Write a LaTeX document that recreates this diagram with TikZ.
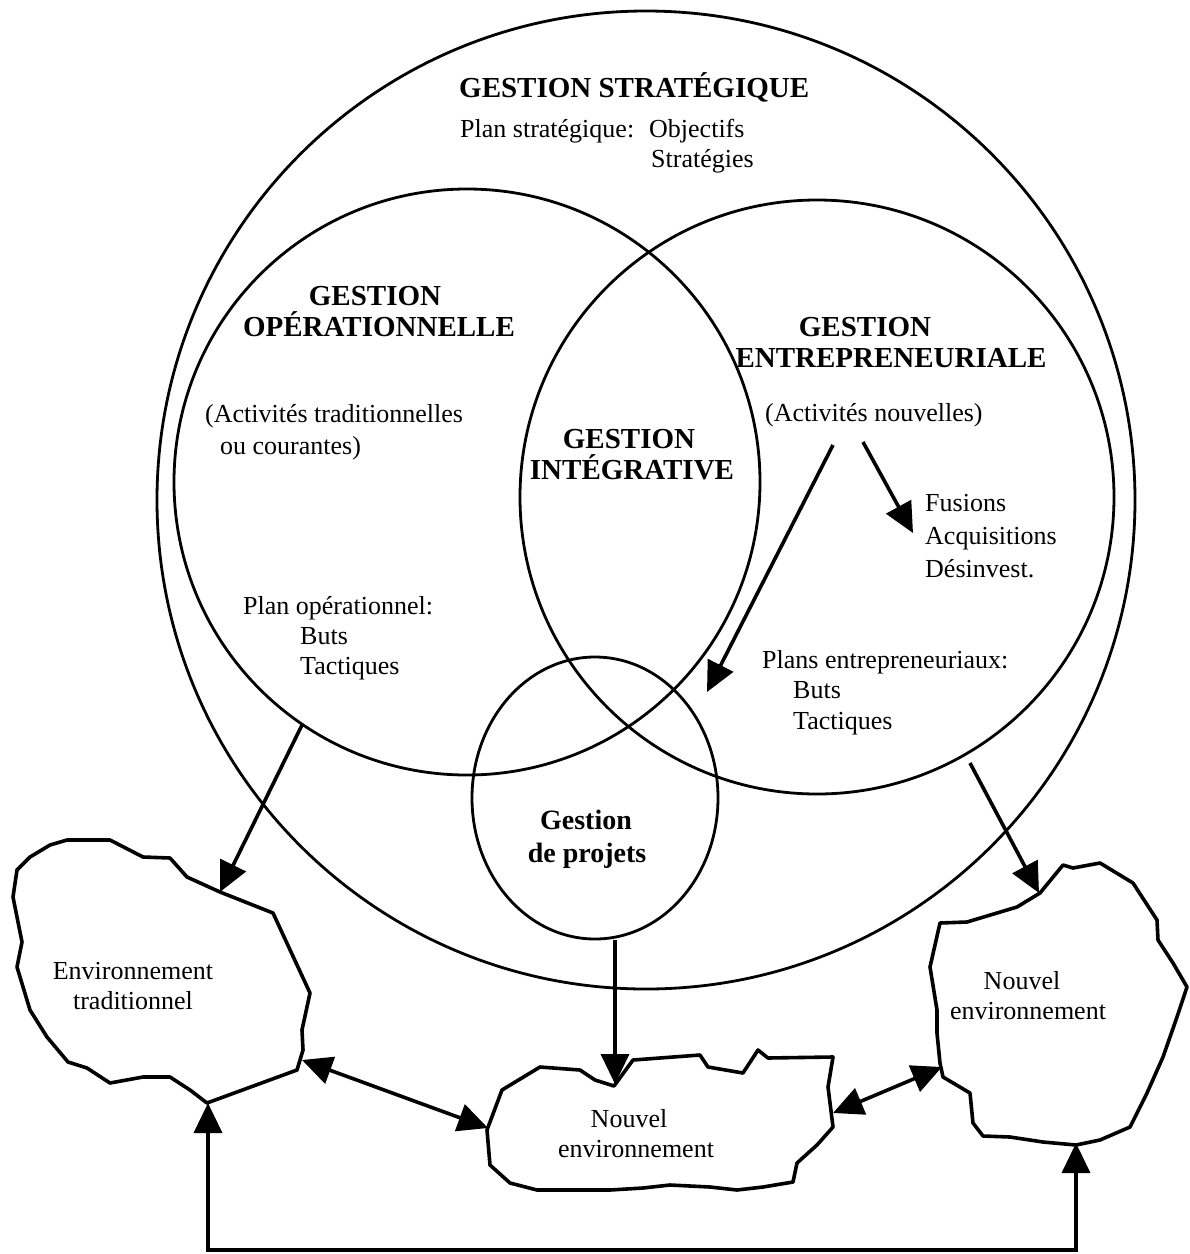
\documentclass[tikz,border=0pt]{standalone}
\usepackage{fontspec}
\setmainfont{Liberation Serif}
\usetikzlibrary{arrows.meta}

\tikzset{
  ring/.style={draw, line width=2.8pt},
  blob/.style={draw, line width=3.6pt, line join=round},
  link/.style={draw, line width=3.6pt, -{Triangle[length=30pt,width=28pt]}},
  biglink/.style={draw, line width=3.6pt, {Triangle[length=30pt,width=28pt]}-{Triangle[length=30pt,width=28pt]}},
  txt/.style={inner sep=0pt, font=\fontsize{26}{30}\selectfont},
  head/.style={inner sep=0pt, font=\fontsize{29}{32}\selectfont\bfseries},
}

\begin{document}
\begin{tikzpicture}[x=1pt, y=-1pt]
\useasboundingbox (0,0) rectangle (1190,1254);

% the four management circles
\draw[ring] (646,500) circle [radius=489];
\draw[ring] (467,482) circle [radius=293];
\draw[ring] (817,497) circle [radius=297];
\draw[ring] (595,798) ellipse [x radius=123, y radius=141];

% environments
\draw[blob] (67,840) -- (110,840) -- (143,857) -- (170,858) -- (187,877)
  -- (220,892) -- (273,913) -- (310,993) -- (302,1030) -- (303,1050)
  -- (297,1070) -- (207,1103) -- (190,1090) -- (170,1077) -- (143,1077)
  -- (110,1083) -- (87,1068) -- (68,1062) -- (47,1037) -- (30,1010)
  -- (17,967) -- (22,942) -- (13,897) -- (17,870) -- (30,857) -- (50,845) -- cycle;

\draw[blob] (502,1090) -- (540,1067) -- (580,1070) -- (595,1080) -- (614,1086)
  -- (633,1060) -- (700,1055) -- (708,1067) -- (743,1073) -- (758,1050)
  -- (768,1058) -- (833,1057) -- (828,1087) -- (833,1127) -- (817,1145)
  -- (797,1163) -- (793,1182) -- (763,1187) -- (737,1190) -- (710,1187)
  -- (670,1185) -- (643,1188) -- (610,1190) -- (570,1190) -- (537,1190)
  -- (510,1183) -- (490,1165) -- (487,1130) -- cycle;

\draw[blob] (1063,865) -- (1073,868) -- (1100,863) -- (1133,883) -- (1157,920)
  -- (1158,940) -- (1173,963) -- (1187,987) -- (1177,1017) -- (1163,1057)
  -- (1147,1093) -- (1130,1127) -- (1100,1140) -- (1076,1145) -- (1043,1142)
  -- (1010,1137) -- (983,1136) -- (973,1123) -- (970,1093) -- (943,1077)
  -- (940,1063) -- (937,1033) -- (937,1010) -- (930,967) -- (940,923)
  -- (967,922) -- (1017,907) -- (1040,893) -- cycle;

% connector end points
\coordinate (opOut) at (302,725);
\coordinate (tradIn) at (220,892);
\coordinate (entOut) at (970,763);
\coordinate (newRIn) at (1039,893);
\coordinate (projOut) at (615,940);
\coordinate (newMIn) at (615,1084);
\coordinate (tradSide) at (302,1060);
\coordinate (newMLeft) at (488,1128);
\coordinate (newMRight) at (833,1113);
\coordinate (newRSide) at (942,1067);
\coordinate (actA) at (833,445);
\coordinate (projIn) at (707,692);
\coordinate (actB) at (863,442);
\coordinate (fusIn) at (913,533);
\coordinate (tradBase) at (208,1103);
\coordinate (cornerL) at (208,1250);
\coordinate (cornerR) at (1076,1250);
\coordinate (newRBase) at (1076,1143);

\path[link] (opOut) -- (tradIn);
\path[link] (entOut) -- (newRIn);
\path[link] (projOut) -- (newMIn);
\path[link] (actA) -- (projIn);
\path[link] (actB) -- (fusIn);
\path[biglink] (tradSide) -- (newMLeft);
\path[biglink] (newMRight) -- (newRSide);
\path[biglink, line join=miter] (tradBase) -- (cornerL) -- (cornerR) -- (newRBase);

% strategic management
\node[head, anchor=base west] (strat) at (459,97) {GESTION STRATÉGIQUE};
\node[txt, anchor=base west] (stratPlan) at (460,137) {Plan stratégique:};
\node[txt, anchor=base west] (stratObj) at (649,137) {Objectifs};
\node[txt, anchor=base west] (stratStrat) at (651,167) {Stratégies};

% operational management
\node[head, anchor=base] (opA) at (375,305) {GESTION};
\node[head, anchor=base] (opB) at (379,336) {OPÉRATIONNELLE};
\node[txt, anchor=base west] (opActA) at (205,422) {(Activités traditionnelles};
\node[txt, anchor=base west] (opActB) at (220,454) {ou courantes)};
\node[txt, anchor=base west] (opPlan) at (243,614) {Plan opérationnel:};
\node[txt, anchor=base west] (opButs) at (300,644) {Buts};
\node[txt, anchor=base west] (opTact) at (300,674) {Tactiques};

% integrative management
\node[head, anchor=base] (intA) at (629,448) {GESTION};
\node[head, anchor=base] (intB) at (632,479) {INTÉGRATIVE};

% entrepreneurial management
\node[head, anchor=base] (entA) at (865,336) {GESTION};
\node[head, anchor=base] (entB) at (891,367) {ENTREPRENEURIALE};
\node[txt, anchor=base west] (entAct) at (765,421) {(Activités nouvelles)};
\node[txt, anchor=base west] (fus) at (925,511) {Fusions};
\node[txt, anchor=base west] (acq) at (925,544) {Acquisitions};
\node[txt, anchor=base west] (desinv) at (925,577) {Désinvest.};
\node[txt, anchor=base west] (entPlan) at (762,668) {Plans entrepreneuriaux:};
\node[txt, anchor=base west] (entButs) at (793,698) {Buts};
\node[txt, anchor=base west] (entTact) at (793,729) {Tactiques};

% project management
\node[head, font=\fontsize{28}{32}\selectfont\bfseries, anchor=base] (projA) at (586,829) {Gestion};
\node[head, font=\fontsize{28}{32}\selectfont\bfseries, anchor=base] (projB) at (587,862) {de projets};

% environments
\node[txt, anchor=base] (tradA) at (133,979) {Environnement};
\node[txt, anchor=base] (tradB) at (133,1009) {traditionnel};
\node[txt, anchor=base] (newRA) at (1022,989) {Nouvel};
\node[txt, anchor=base] (newRB) at (1028,1019) {environnement};
\node[txt, anchor=base] (newMA) at (629,1127) {Nouvel};
\node[txt, anchor=base] (newMB) at (636,1157) {environnement};
\end{tikzpicture}
\end{document}
